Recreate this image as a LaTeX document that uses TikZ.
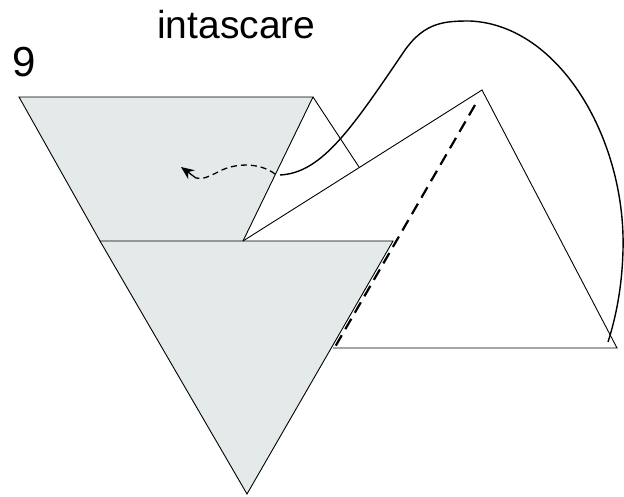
\documentclass[tikz,border=0pt]{standalone}
\usepackage{fontspec}
\setmainfont{Liberation Sans}
\usepackage{tikz}
\usetikzlibrary{arrows.meta}
\definecolor{paper}{RGB}{227,234,233}
\tikzset{
  fold/.style={line width=0.9pt},
  crease/.style={line width=2.2pt,dash pattern=on 12pt off 7pt},
  move/.style={line width=1.3pt,dash pattern=on 6pt off 4pt},
  tip/.style={line width=1.3pt,-{Stealth[length=13pt,width=11pt]}}
}

\begin{document}
\begin{tikzpicture}[x=1pt,y=-1pt]
  \useasboundingbox (0,0) rectangle (624,497);

  % Corners of the paper
  \coordinate (TL) at (19,97);
  \coordinate (TR) at (313,97);
  \coordinate (ML) at (100,241);
  \coordinate (MC) at (243,241);
  \coordinate (MR) at (393,241);
  \coordinate (Ap) at (247,494);
  \coordinate (Ed) at (333,348);
  % Corners of the folded flap
  \coordinate (Fk) at (359,167);
  \coordinate (Pk) at (482,90);
  \coordinate (BR) at (617,348);

  % Gray pieces
  \fill[paper] (TL) -- (TR) -- (MC) -- (MR) -- (Ap) -- (ML) -- cycle;
  \draw[fold] (ML) -- (TL) -- (TR) -- (MC);
  \draw[fold] (ML) -- (MR) -- (Ap) -- cycle;

  % Folded flap
  \draw[fold] (TR) -- (Fk);
  \draw[fold] (MC) -- (Pk) -- (BR) -- (Ed);
  \draw[crease] (475,105) -- (335,347);

  % Tucking path
  \coordinate (In) at (280,175);
  \coordinate (Out) at (608,342);
  \draw[line width=1.4pt] (In) .. controls (322,173) and (352,128) .. (405,50)
    .. controls (425,22) and (445,21) .. (470,21)
    .. controls (560,25) and (626,140) .. (623,250)
    .. controls (622,290) and (615,320) .. (Out);
  \coordinate (Go) at (275,174);
  \coordinate (Bk) at (196,178);
  \coordinate (Tip) at (181,167);
  \draw[move] (Go) .. controls (262,164) and (240,162) .. (222,170)
    .. controls (210,176) and (203,180) .. (Bk);
  \draw[tip] (Bk) -- (Tip);

  % Labels
  \node[anchor=base west,inner sep=0pt,font=\fontsize{39}{41}\selectfont] (tuck) at (157,39) {intascare};
  \node[anchor=base west,inner sep=0pt,font=\fontsize{42}{44}\selectfont] (stepno) at (12,77) {9};
\end{tikzpicture}
\end{document}
